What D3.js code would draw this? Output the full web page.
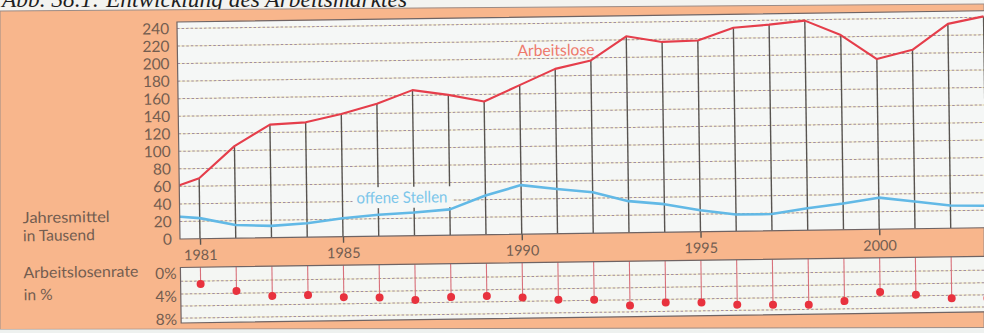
<!DOCTYPE html>
<html><head><meta charset="utf-8">
<script src="https://cdn.jsdelivr.net/npm/d3@7"></script>
<style>html,body{margin:0;padding:0;background:#f3f3f0;overflow:hidden}</style>
</head><body><svg id="c" width="984" height="333"></svg>
<script>
// ---- data ----
const years = [1980,1981,1982,1983,1984,1985,1986,1987,1988,1989,1990,1991,1992,1993,1994,1995,1996,1997,1998,1999,2000,2001,2002,2003];
const arbeitslose = [55,69,105,129,131,140,151,166,160,152,170,188,197,224,217,218,232,235,239,222,194,204,233,241];
const offeneStellen = [27,23.5,15,13.5,16,21,24.5,26.5,29.5,44.8,56,51,46.8,36,32,24.5,19,19,25,30,36,31,26,25];
const rateYears = [1981,1982,1983,1984,1985,1986,1987,1988,1989,1990,1991,1992,1993,1994,1995,1996,1997,1998,1999,2000,2001,2002,2003];
const arbeitslosenrate = [1.9,3.2,4.15,4.1,4.55,4.7,5.2,4.8,4.7,5.05,5.5,5.6,6.7,6.25,6.35,6.8,6.9,7.0,6.45,4.95,5.5,6.2,6.3];
const yTicks = [0,20,40,60,80,100,120,140,160,180,200,220,240];
const yGrid = [20,40,60,80,100,120,140,160,180,200,220,240];
const yearLabels = [1981,1985,1990,1995,2000];
const rateTicks = [0,4,8];
const rateGrid = [1.4,3.6,5.7,7.8];
const titleText = "Abb. 38.1: Entwicklung des Arbeitsmarktes";

// ---- layout ----
const FONT = "Lato, 'Noto Sans', sans-serif";
const TXT = "#735d50";
const svg = d3.select("#c");
const plotL = 180, plotR = 1010, plotT = 22, plotB = 239;
const rateT = 267.5, rateB = 323;

// page title (cut at top, as in the scan)
svg.append("text").attr("x", 2).attr("y", 7)
  .attr("font-family", "'Liberation Serif', serif").attr("font-style", "italic")
  .attr("font-size", 24).attr("fill", "#1e1e1e")
  .attr("textLength", 405).attr("lengthAdjust", "spacingAndGlyphs")
  .text(titleText);

// orange frame
svg.append("polygon").attr("points", "0,11 984,4 984,327.5 0,329.5")
  .attr("fill", "#f8b68c").attr("stroke", "#9c8c86").attr("stroke-width", 1);
svg.append("rect").attr("x", 0).attr("y", 329.5).attr("width", 984).attr("height", 4).attr("fill", "#eef1ef");

const g = svg.append("g").attr("transform", `rotate(-0.8, ${plotL}, ${plotB})`);

const x = d3.scaleLinear().domain([1981, 2000]).range([200, 879.3]);
const y = d3.scaleLinear().domain([0, 240]).range([plotB, 28.5]);
const r = d3.scaleLinear().domain([0, 8]).range([273.3, 319.3]);

svg.append("defs").append("clipPath").attr("id", "clip")
  .append("rect").attr("x", plotL).attr("y", plotT).attr("width", plotR - plotL).attr("height", plotB - plotT);

// plot background
g.append("rect").attr("x", plotL).attr("y", plotT).attr("width", plotR - plotL).attr("height", plotB - plotT)
  .attr("fill", "#f5f7f6");

// gridlines
const grid = g.append("g");
grid.selectAll("line.y1").data(yGrid).join("line")
  .attr("x1", plotL).attr("x2", plotR).attr("y1", d => y(d)).attr("y2", d => y(d))
  .attr("stroke", "#f1e8b4").attr("stroke-width", 1);
grid.selectAll("line.y2").data(yGrid).join("line")
  .attr("x1", plotL).attr("x2", plotR).attr("y1", d => y(d)).attr("y2", d => y(d))
  .attr("stroke", "#a08ca6").attr("stroke-width", 1).attr("stroke-dasharray", "2.5,2");

// vertical year lines up to the Arbeitslose line
const pairs = years.map((yr, i) => ({ yr, a: arbeitslose[i], o: offeneStellen[i] }));
g.append("g").attr("clip-path", "url(#clip)").selectAll("line").data(pairs.filter(d => d.yr >= 1981)).join("line")
  .attr("x1", d => x(d.yr)).attr("x2", d => x(d.yr))
  .attr("y1", y(0)).attr("y2", d => y(d.a))
  .attr("stroke", "#585450").attr("stroke-width", 1.4);

// label background
g.append("rect").attr("x", 353).attr("y", 190).attr("width", 100).attr("height", 21).attr("fill", "#f5f7f6");

// lines
const lineA = d3.line().x(d => x(d.yr)).y(d => y(d.a));
const lineO = d3.line().x(d => x(d.yr)).y(d => y(d.o));
const lines = g.append("g").attr("clip-path", "url(#clip)");
lines.append("path").datum(pairs).attr("d", lineO).attr("fill", "none")
  .attr("stroke", "#62b9e6").attr("stroke-width", 2.6).attr("stroke-linejoin", "round");
lines.append("path").datum(pairs).attr("d", lineA).attr("fill", "none")
  .attr("stroke", "#e53e4b").attr("stroke-width", 2.1).attr("stroke-linejoin", "round");

// plot border
g.append("path").attr("d", `M${plotR},${plotT}H${plotL}V${plotB}H${plotR}`)
  .attr("fill", "none").attr("stroke", "#6f6464").attr("stroke-width", 1.2);

// line labels
g.append("text").attr("x", 520).attr("y", 61).attr("font-family", FONT).attr("font-size", 16)
  .attr("fill", "#ee7a6c").attr("textLength", 77).attr("lengthAdjust", "spacingAndGlyphs").text("Arbeitslose");
g.append("text").attr("x", 357).attr("y", 206).attr("font-family", FONT).attr("font-size", 16)
  .attr("fill", "#7cc6ea").attr("textLength", 91).attr("lengthAdjust", "spacingAndGlyphs").text("offene Stellen");

// y axis labels
const yAx = g.append("g").attr("transform", `translate(${plotL},0)`)
  .call(d3.axisLeft(y).tickValues(yTicks).tickSize(0).tickPadding(8));
yAx.select(".domain").remove();
yAx.selectAll("text").attr("font-family", FONT).attr("font-size", 15.5).attr("fill", TXT);

// x axis (year labels + ticks)
const xAx = g.append("g").attr("transform", `translate(0,${plotB})`)
  .call(d3.axisBottom(x).tickValues(yearLabels).tickFormat(d3.format("d")).tickSize(6).tickPadding(5));
xAx.select(".domain").remove();
xAx.selectAll("line").attr("stroke", "#585450").attr("stroke-width", 1.4);
xAx.selectAll("text").attr("font-family", FONT).attr("font-size", 14.5).attr("fill", TXT);

// side labels
const side = g.append("g").attr("font-family", FONT).attr("font-size", 15.5).attr("fill", TXT);
side.append("text").attr("x", 23).attr("y", 221).attr("textLength", 87).attr("lengthAdjust", "spacingAndGlyphs").text("Jahresmittel");
side.append("text").attr("x", 23).attr("y", 239).text("in Tausend");
side.append("text").attr("x", 23).attr("y", 276).attr("textLength", 115).attr("lengthAdjust", "spacingAndGlyphs").text("Arbeitslosenrate");
side.append("text").attr("x", 23).attr("y", 298).text("in %");

// rate panel
g.append("rect").attr("x", plotL).attr("y", rateT).attr("width", plotR - plotL).attr("height", rateB - rateT)
  .attr("fill", "#f4f6f3");
g.selectAll("line.rg1").data(rateGrid).join("line")
  .attr("x1", plotL).attr("x2", plotR).attr("y1", d => r(d)).attr("y2", d => r(d))
  .attr("stroke", "#f1e8b4").attr("stroke-width", 1);
g.selectAll("line.rg2").data(rateGrid).join("line")
  .attr("x1", plotL).attr("x2", plotR).attr("y1", d => r(d)).attr("y2", d => r(d))
  .attr("stroke", "#a08ca6").attr("stroke-width", 1).attr("stroke-dasharray", "2.5,2");
const rp = rateYears.map((yr, i) => ({ yr, v: arbeitslosenrate[i] }));
g.selectAll("line.stem").data(rp).join("line")
  .attr("x1", d => x(d.yr)).attr("x2", d => x(d.yr)).attr("y1", rateT).attr("y2", d => r(d.v))
  .attr("stroke", "#d8707a").attr("stroke-width", 1.1);
g.selectAll("circle.dot").data(rp).join("circle")
  .attr("cx", d => x(d.yr)).attr("cy", d => r(d.v)).attr("r", 4).attr("fill", "#e8323e");
g.append("path").attr("d", `M${plotR},${rateT}H${plotL}V${rateB}H${plotR}`)
  .attr("fill", "none").attr("stroke", "#6f6464").attr("stroke-width", 1.2);
const rAx = g.append("g").attr("transform", `translate(${plotL},0)`)
  .call(d3.axisLeft(r).tickValues(rateTicks).tickFormat(d => d + "%").tickSize(0).tickPadding(4));
rAx.select(".domain").remove();
rAx.selectAll("text").attr("font-family", FONT).attr("font-size", 15.5).attr("fill", TXT);
</script></body></html>
